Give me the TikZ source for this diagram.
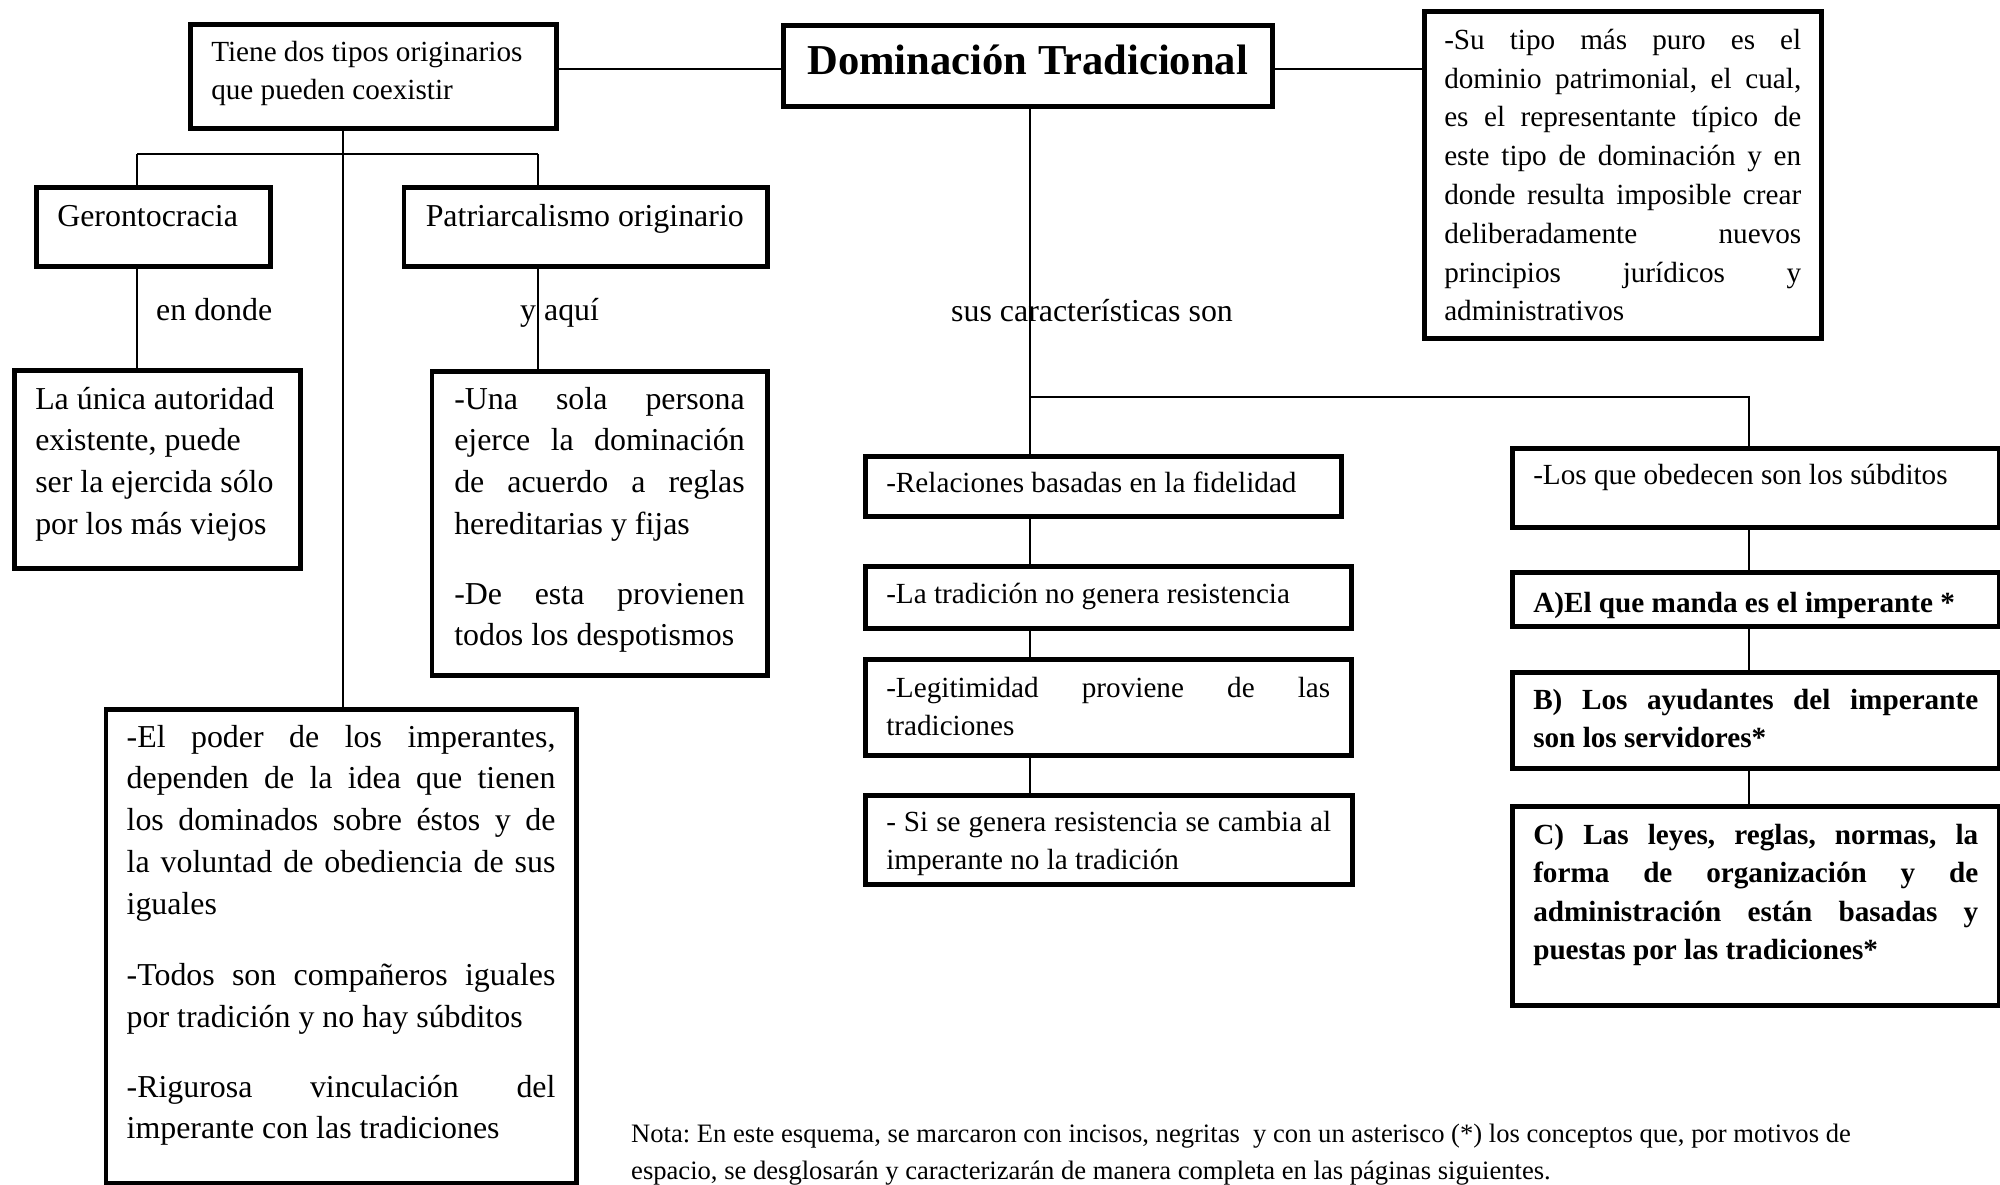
\documentclass[tikz,border=0pt]{standalone}
\usepackage{fontspec}
\setmainfont{Liberation Serif}
\tikzstyle{box}=[shape=rectangle,draw=black,line width=4.5pt,anchor=north west,inner xsep=21pt,inner ysep=0pt]
\tikzstyle{link}=[draw=black,line width=1.5pt]
\tikzstyle{mainlink}=[draw=black,line width=2.7pt]
\newcommand{\elevenpt}{\fontsize{29.2pt}{38pt}\selectfont}
\newcommand{\twelvept}{\fontsize{31.9pt}{41.7pt}\selectfont}
\newcommand{\paragap}[1]{\par\vspace{#1}}
\tikzstyle{lbl}=[inner sep=0pt,anchor=base west,font=\twelvept]
\frenchspacing

\begin{document}
\begin{tikzpicture}[x=1pt,y=-1pt]
\useasboundingbox (0,0) rectangle (2000,1184);
% top row
\node[box,font=\elevenpt,align=flush left,text width=324pt,text height=37pt,text depth=67pt] (tiene) at (188,22)
    {Tiene dos tipos originarios\\que pueden coexistir};
\node[box,font=\fontsize{42.6pt}{50pt}\selectfont\bfseries,inner xsep=0pt,minimum width=489pt,text height=49pt,text depth=32pt] (dom) at (781,23)
    {Dominación Tradicional};
\node[box,font=\fontsize{29.2pt}{38.8pt}\selectfont,inner xsep=20pt,align=justify,text width=357pt,text height=38pt,text depth=289pt] (puro) at (1422,9)
    {-Su tipo más puro es el\linebreak dominio patrimonial, el cual,\linebreak es el representante típico de\linebreak este tipo de dominación y en\linebreak donde resulta imposible crear\linebreak deliberadamente nuevos\linebreak principios jurídicos y\linebreak administrativos};
% left branch
\node[box,font=\twelvept,align=flush left,text width=192pt,text height=39pt,text depth=40pt] (geron) at (34,185) {Gerontocracia};
\node[box,font=\twelvept,align=flush left,inner xsep=22pt,text width=319.5pt,text height=39pt,text depth=40pt] (patri) at (401.5,185) {Patriarcalismo originario};
\node[box,font=\twelvept,align=flush left,text width=244pt,text height=39pt,text depth=159pt] (unica) at (12,368)
    {La única autoridad\\existente, puede\\ser la ejercida sólo\\por los más viejos};
\node[box,font=\twelvept,align=justify,inner xsep=22.5pt,text width=290.5pt,text height=38pt,text depth=266pt] (una) at (429.5,369)
    {-Una sola persona\linebreak ejerce la dominación\linebreak de acuerdo a reglas\linebreak hereditarias y fijas\paragap{28pt}
     -De esta provienen\linebreak todos los despotismos};
\node[box,font=\twelvept,align=justify,inner xsep=20.8pt,text width=428.8pt,text height=38pt,text depth=436pt] (poder) at (103.6,707)
    {-El poder de los imperantes,\linebreak dependen de la idea que tienen\linebreak los dominados sobre éstos y de\linebreak la voluntad de obediencia de sus\linebreak iguales\paragap{30pt}
     -Todos son compañeros iguales\linebreak por tradición y no hay súbditos\paragap{28pt}
     -Rigurosa vinculación del\linebreak imperante con las tradiciones};
% right branch
\node[box,font=\elevenpt,align=flush left,text width=434pt,text height=36pt,text depth=24pt] (rel) at (863,454)
    {-Relaciones basadas en la fidelidad};
\node[box,font=\elevenpt,align=flush left,text width=444pt,text height=37pt,text depth=25pt] (trad) at (863,564)
    {-La tradición no genera resistencia};
\node[box,font=\elevenpt,align=justify,text width=444pt,text height=38pt,text depth=58pt] (legit) at (863,657)
    {-Legitimidad proviene de las\linebreak tradiciones};
\node[box,font=\elevenpt,align=justify,text width=445pt,text height=36pt,text depth=53pt] (sigen) at (863,793)
    {- Si se genera resistencia se cambia al\linebreak imperante no la tradición};
\node[box,font=\elevenpt,align=flush left,text width=445pt,text height=36pt,text depth=43pt] (obey) at (1510,446)
    {-Los que obedecen son los súbditos};
\node[box,font=\elevenpt\bfseries,align=flush left,text width=445pt,text height=40pt,text depth=14pt] (boxa) at (1510,570)
    {A)El que manda es el imperante *};
\node[box,font=\elevenpt\bfseries,align=justify,text width=445pt,text height=37pt,text depth=59pt] (boxb) at (1510,670)
    {B) Los ayudantes del imperante\linebreak son los servidores*};
\node[box,font=\fontsize{29.2pt}{38.5pt}\selectfont\bfseries,align=justify,text width=445pt,text height=38pt,text depth=161pt] (boxc) at (1510,804)
    {C) Las leyes, reglas, normas, la\linebreak forma de organización y de\linebreak administración están basadas y\linebreak puestas por las tradiciones*};
% labels
\node[lbl] (endonde) at (156,320) {en donde};
\node[lbl] (yaqui) at (520,320) {y aquí};
\node[lbl] (suscar) at (951,321) {sus características son};
\node[inner sep=0pt,anchor=base west,text width=1340pt,align=flush left,font=\fontsize{26.6pt}{37pt}\selectfont] (nota) at (631,1142)
    {Nota: En este esquema, se marcaron con incisos, negritas\ \ y con un asterisco (*) los conceptos que, por motivos de\\espacio, se desglosarán y caracterizarán de manera completa en las páginas siguientes.};
% connectors
\coordinate (hy) at (0,69);
\coordinate (tj) at (343,154);
\coordinate (gj) at (137,154);
\coordinate (pj) at (538,154);
\coordinate (dj) at (1030,397);
\coordinate (sj) at (1749,397);
\draw[mainlink] (tiene.east |- hy) -- (dom.west |- hy);
\draw[mainlink] (dom.east |- hy) -- (puro.west |- hy);
\draw[link] (tiene.south -| tj) -- (poder.north -| tj);
\draw[link] (gj) -- (pj);
\draw[link] (gj) -- (geron.north -| gj);
\draw[link] (pj) -- (patri.north -| pj);
\draw[link] (geron.south -| gj) -- (unica.north -| gj);
\draw[link] (patri.south -| pj) -- (una.north -| pj);
\draw[link] (dom.south -| dj) -- (dj) -- (sj) -- (obey.north -| sj);
\draw[link] (dj) -- (rel.north -| dj);
\draw[link] (rel.south -| dj) -- (trad.north -| dj);
\draw[link] (trad.south -| dj) -- (legit.north -| dj);
\draw[link] (legit.south -| dj) -- (sigen.north -| dj);
\draw[link] (obey.south -| sj) -- (boxa.north -| sj);
\draw[link] (boxa.south -| sj) -- (boxb.north -| sj);
\draw[link] (boxb.south -| sj) -- (boxc.north -| sj);
\end{tikzpicture}
\end{document}
